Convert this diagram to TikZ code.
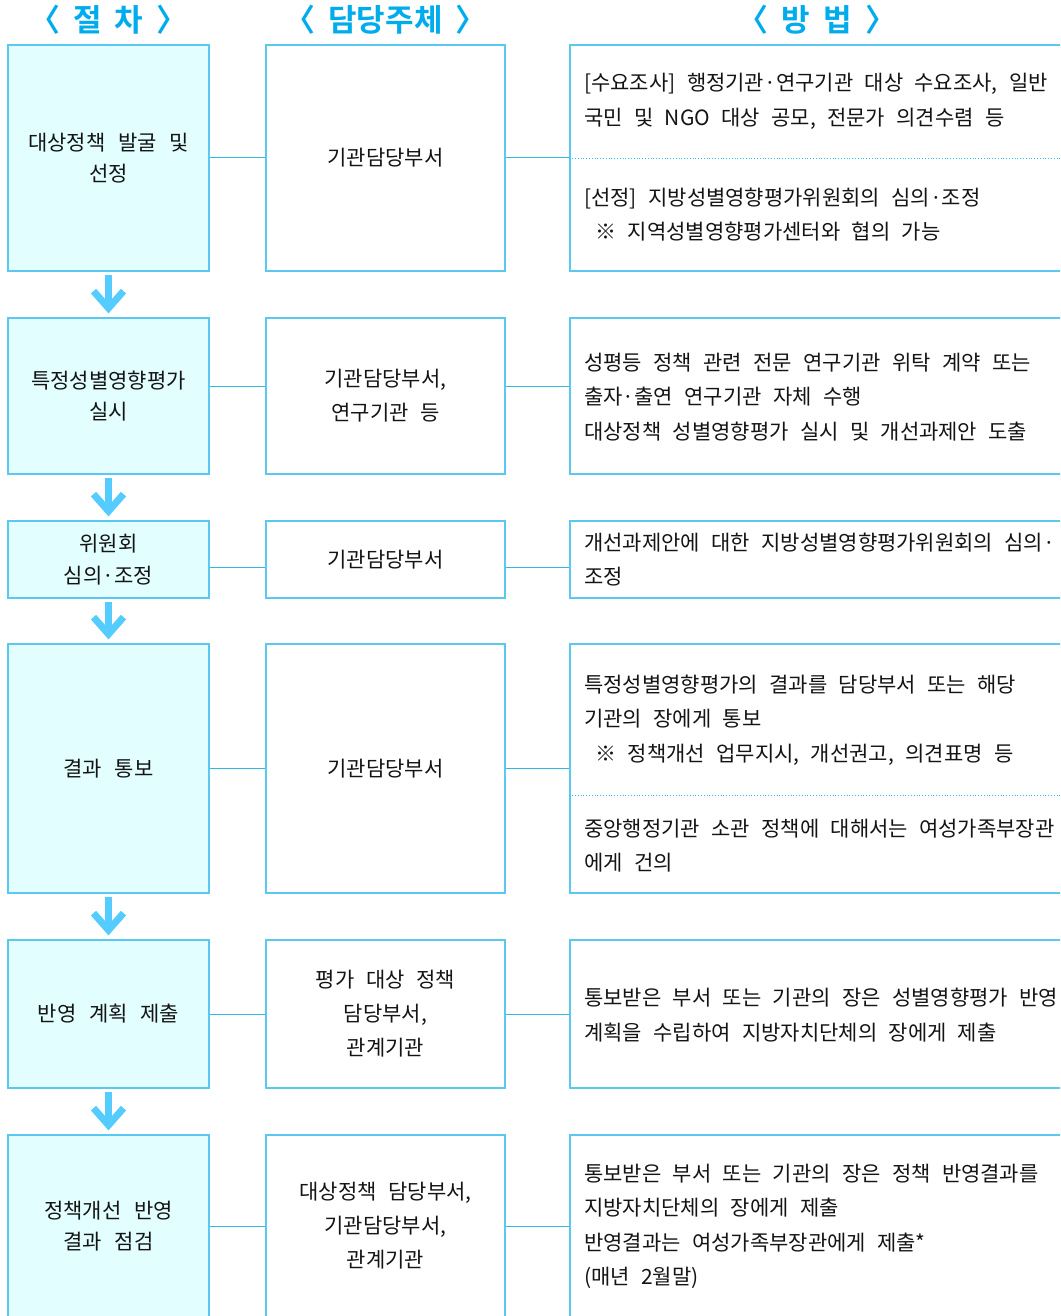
\documentclass[tikz,border=0pt]{standalone}
\usepackage{fontspec}
\setmainfont{Noto Sans CJK KR}[BoldFont={Noto Sans CJK KR Bold}]
\usetikzlibrary{arrows.meta,positioning}

\definecolor{headblue}{RGB}{0,172,236}
\definecolor{frameblue}{RGB}{90,200,240}
\definecolor{stagefill}{RGB}{226,254,255}
\definecolor{flowblue}{RGB}{85,204,255}
\definecolor{linkblue}{RGB}{50,185,235}
\definecolor{inkgray}{RGB}{20,20,20}

\newcommand{\headtext}{\fontsize{31}{33}\selectfont\bfseries\spaceskip=13pt\relax}
\newcommand{\stagetext}{\fontsize{21}{31.5}\selectfont\spaceskip=0.6em\relax}
\newcommand{\partytext}{\fontsize{21}{34}\selectfont\spaceskip=0.55em\relax}
\newcommand{\notetext}{\fontsize{21}{34.5}\selectfont\spaceskip=0.54em\relax}

\begin{document}
\begin{tikzpicture}[x=1pt, y=-1pt]
\tikzstyle{stage}=[rectangle,
                   draw=frameblue,
                   fill=stagefill,
                   line width=1.2pt,
                   minimum width=201pt,
                   inner sep=0pt,
                   align=center,
                   text=inkgray,
                   font=\stagetext]
\tikzstyle{party}=[rectangle,
                   draw=frameblue,
                   fill=white,
                   line width=1.2pt,
                   minimum width=239pt,
                   inner sep=0pt,
                   align=center,
                   text=inkgray,
                   font=\partytext]
\tikzstyle{method}=[rectangle,
                   draw=frameblue,
                   fill=white,
                   line width=1.2pt,
                   minimum width=500pt,
                   inner sep=0pt]
\tikzstyle{note}=[anchor=west,
                  inner sep=0pt,
                  align=left,
                  text=inkgray,
                  font=\notetext]
\tikzstyle{head}=[text=headblue,
                  inner sep=0pt,
                  font=\headtext]
\tikzstyle{link}=[draw=linkblue, line width=1pt]
\tikzstyle{divider}=[draw=linkblue, line width=0.8pt, dotted]
\tikzstyle{flow}=[draw=flowblue, line width=7pt,
                  -{Straight Barb[length=17pt, width=30pt]},
                  shorten <=3pt, shorten >=4pt]

\useasboundingbox (0,0) rectangle (1060,1316);
\clip (0,0) rectangle (1060,1316);

% headers
\node[head] (hstep) at (108.5,20) {〈 절 차 〉};
\node[head] (hparty) at (385.5,20) {〈 담당주체 〉};
\node[head] (hmethod) at (817,20) {〈 방 법 〉};

% procedure
\node[stage, minimum height=226pt] (p1) at (108.5,158) {대상정책 발굴 및\\선정};
\node[stage, minimum height=156pt] (p2) at (108.5,396) {특정성별영향평가\\실시};
\node[stage, minimum height=77pt] (p3) at (108.5,559.5) {위원회\\심의·조정};
\node[stage, minimum height=249pt] (p4) at (108.5,768.5) {결과 통보};
\node[stage, minimum height=148pt] (p5) at (108.5,1014) {반영 계획 제출};
\node[stage, minimum height=182pt] (p6) at (108.5,1226) {정책개선 반영\\결과 점검};

% responsible
\node[party, minimum height=226pt] (r1) at (385.5,158) {기관담당부서};
\node[party, minimum height=156pt] (r2) at (385.5,396) {기관담당부서,\\연구기관 등};
\node[party, minimum height=77pt] (r3) at (385.5,559.5) {기관담당부서};
\node[party, minimum height=249pt] (r4) at (385.5,768.5) {기관담당부서};
\node[party, minimum height=148pt] (r5) at (385.5,1014) {평가 대상 정책\\담당부서,\\관계기관};
\node[party, minimum height=182pt] (r6) at (385.5,1226) {대상정책 담당부서,\\기관담당부서,\\관계기관};

% methods
\node[method, minimum height=226pt] (m1) at (820,158) {};
\node[method, minimum height=156pt] (m2) at (820,396) {};
\node[method, minimum height=77pt] (m3) at (820,559.5) {};
\node[method, minimum height=249pt] (m4) at (820,768.5) {};
\node[method, minimum height=148pt] (m5) at (820,1014) {};
\node[method, minimum height=182pt] (m6) at (820,1226) {};

\draw[divider] (m1.west) -- (m1.east);
\draw[divider] ([yshift=-26.5pt]m4.west) -- ([yshift=-26.5pt]m4.east);

\node[note] (t1a) at (584,101.5) {[수요조사] 행정기관·연구기관 대상 수요조사, 일반\\국민 및 NGO 대상 공모, 전문가 의견수렴 등};
\node[note] (t1b) at (584,214.5) {[선정] 지방성별영향평가위원회의 심의·조정\\\ ※ 지역성별영향평가센터와 협의 가능};
\node[note] (t2) at (584,397) {성평등 정책 관련 전문 연구기관 위탁 계약 또는\\출자·출연 연구기관 자체 수행\\대상정책 성별영향평가 실시 및 개선과제안 도출};
\node[note] (t3) at (584,559.5) {개선과제안에 대한 지방성별영향평가위원회의 심의·\\조정};
\node[note] (t4a) at (584,720) {특정성별영향평가의 결과를 담당부서 또는 해당\\기관의 장에게 통보\\\ ※ 정책개선 업무지시, 개선권고, 의견표명 등};
\node[note] (t4b) at (584,845.5) {중앙행정기관 소관 정책에 대해서는 여성가족부장관\\에게 건의};
\node[note] (t5) at (584,1015) {통보받은 부서 또는 기관의 장은 성별영향평가 반영\\계획을 수립하여 지방자치단체의 장에게 제출};
\node[note] (t6) at (584,1226.5) {통보받은 부서 또는 기관의 장은 정책 반영결과를\\지방자치단체의 장에게 제출\\반영결과는 여성가족부장관에게 제출*\\(매년 2월말)};

% connectors
\draw[link] (p1) -- (r1);
\draw[link] (r1) -- (m1);
\draw[link] ([yshift=10pt]p2.east) -- ([yshift=10pt]r2.west);
\draw[link] ([yshift=10pt]r2.east) -- ([yshift=10pt]m2.west);
\draw[link] ([yshift=-7.5pt]p3.east) -- ([yshift=-7.5pt]r3.west);
\draw[link] ([yshift=-7.5pt]r3.east) -- ([yshift=-7.5pt]m3.west);
\draw[link] (p4) -- (r4);
\draw[link] (r4) -- (m4);
\draw[link] (p5) -- (r5);
\draw[link] (r5) -- (m5);
\draw[link] (p6) -- (r6);
\draw[link] (r6) -- (m6);

% flow arrows
\foreach \a/\b in {p1/p2, p2/p3, p3/p4, p4/p5, p5/p6}
  \draw[flow] (\a) -- (\b);
\end{tikzpicture}
\end{document}
